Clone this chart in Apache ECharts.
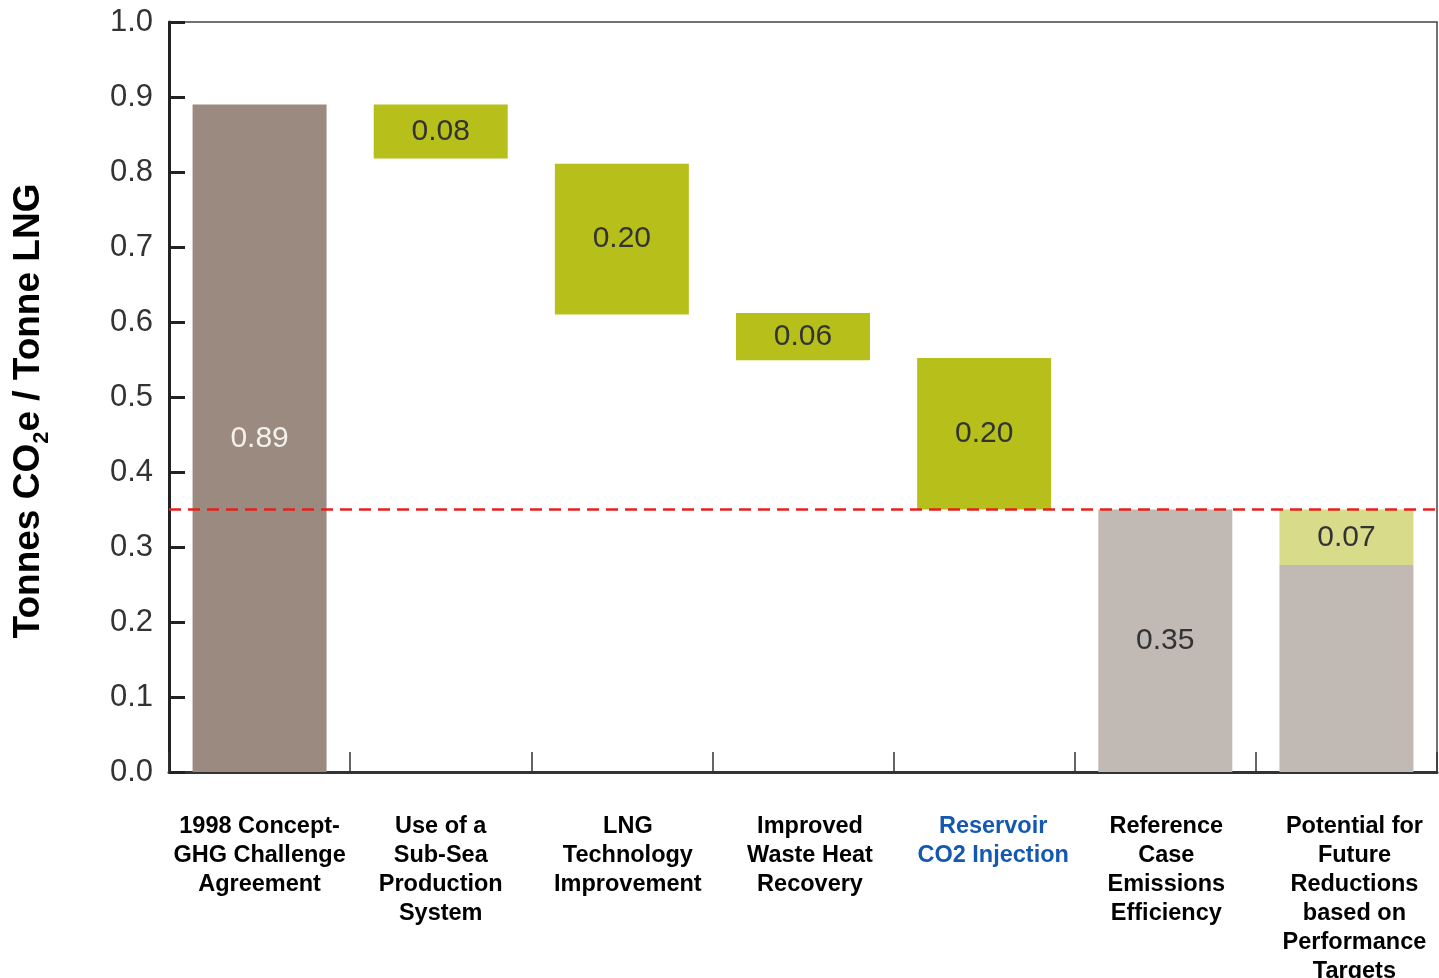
<!DOCTYPE html>
<html>
<head>
<meta charset="utf-8">
<script src="https://cdn.jsdelivr.net/npm/echarts@6/dist/echarts.min.js"></script>
<style>
html,body{margin:0;padding:0;background:#fff;}
#chart{width:1439px;height:978px;}
</style>
</head>
<body>
<div id="chart"></div>
<script>
// ---- data ----
const categories = [
  '1998 Concept-\nGHG Challenge\nAgreement',
  'Use of a\nSub-Sea\nProduction\nSystem',
  'LNG\nTechnology\nImprovement',
  'Improved\nWaste Heat\nRecovery',
  'Reservoir\nCO2 Injection',
  'Reference\nCase\nEmissions\nEfficiency',
  'Potential for\nFuture\nReductions\nbased on\nPerformance\nTargets'
];
// solid bars standing on zero (start total, reference case, remaining potential)
const solidValues = [0.89, null, null, null, null, 0.35, 0.276];
// floating step segments: low and high ends
const stepLow  = [null, 0.818, 0.61, 0.549, 0.35, null, 0.276];
const stepHigh = [null, 0.89, 0.811, 0.612, 0.552, null, 0.35];
// printed value labels
const valueLabels = ['0.89', '0.08', '0.20', '0.06', '0.20', '0.35', '0.07'];
const targetLine = 0.35;
const yTicks = ['0.0','0.1','0.2','0.3','0.4','0.5','0.6','0.7','0.8','0.9','1.0'];

// ---- styling ----
const BROWN = '#9b8a7f', OLIVE = '#b7bf1b', GREY = '#c1b9b4', PALE = '#d8dc8a';
const solidColors = [BROWN, null, null, null, null, GREY, GREY];
const stepColors = [null, OLIVE, OLIVE, OLIVE, OLIVE, null, PALE];
const labelShift = [0, 0, 6, 7, 9, 1, 8];
const labelColors = ['#000','#000','#000','#000','#1558b0','#000','#000'];
const FONT = '"Liberation Sans", Arial, Helvetica, sans-serif';

// invisible lift under floating segments (only where nothing solid is stacked below)
const baseData = categories.map((c, i) => (solidValues[i] == null && stepLow[i] != null) ? stepLow[i] : 0);
const solidData = categories.map((c, i) => {
  if (solidValues[i] == null) return { value: 0, itemStyle: { color: 'rgba(0,0,0,0)' }, label: { show: false } };
  return {
    value: solidValues[i],
    itemStyle: { color: solidColors[i] },
    label: { show: i !== 6, color: i === 0 ? '#f4f0ec' : '#333' }
  };
});
const stepData = categories.map((c, i) => {
  if (stepLow[i] == null) return { value: 0, itemStyle: { color: 'rgba(0,0,0,0)' }, label: { show: false } };
  return {
    value: +(stepHigh[i] - stepLow[i]).toFixed(4),
    itemStyle: { color: stepColors[i] },
    label: { show: true, color: '#333' }
  };
});

const rich = {};
categories.forEach((c, i) => {
  rich['c' + i] = {
    fontFamily: FONT, fontSize: 23.5, fontWeight: 'bold', lineHeight: 29,
    color: labelColors[i], padding: [0, 0, 0, labelShift[i] * 2], align: 'center'
  };
});

const chart = echarts.init(document.getElementById('chart'));
chart.setOption({
  animation: false,
  backgroundColor: '#fff',
  grid: {
    left: 169, right: 2, top: 22, bottom: 206,
    show: true, borderColor: '#444', borderWidth: 1.5,
    containLabel: false, outerBoundsMode: 'none'
  },
  xAxis: {
    type: 'category',
    data: categories,
    axisLine: { show: true, onZero: false, lineStyle: { color: '#333', width: 3 } },
    axisTick: { show: true, inside: true, length: 20, interval: 0, alignWithLabel: false,
      lineStyle: { color: '#333', width: 1.5 } },
    axisLabel: {
      interval: 0, margin: 40, hideOverlap: false,
      formatter: (v, i) => v.split('\n').map(l => '{c' + i + '|' + l + '}').join('\n'),
      rich: rich
    },
    splitLine: { show: false }
  },
  yAxis: {
    type: 'value', min: 0, max: 1, interval: 0.1,
    axisLine: { show: true, lineStyle: { color: '#222', width: 3 } },
    axisTick: { show: true, inside: true, length: 16, lineStyle: { color: '#222', width: 3 } },
    axisLabel: {
      margin: 16, fontFamily: FONT, fontSize: 31, color: '#333',
      formatter: (v) => yTicks[Math.round(v * 10)]
    },
    splitLine: { show: false }
  },
  graphic: [{
    type: 'text',
    x: 29, y: 411,
    rotation: Math.PI / 2,
    style: {
      text: '{a|Tonnes CO}{s|2}{a|e / Tonne LNG}',
      align: 'center', verticalAlign: 'middle',
      rich: {
        a: { fontFamily: FONT, fontSize: 37, fontWeight: 'bold', fill: '#000', lineHeight: 37, verticalAlign: 'top' },
        s: { fontFamily: FONT, fontSize: 22, fontWeight: 'bold', fill: '#000', lineHeight: 22, verticalAlign: 'top', padding: [20, 0, 0, 0] }
      }
    }
  }],
  series: [
    {
      name: 'base', type: 'bar', stack: 'w', barWidth: 134,
      itemStyle: { color: 'rgba(0,0,0,0)' },
      emphasis: { disabled: true }, silent: true,
      data: baseData
    },
    {
      name: 'solid', type: 'bar', stack: 'w', barWidth: 134,
      label: {
        position: 'inside', fontFamily: FONT, fontSize: 30,
        formatter: (p) => valueLabels[p.dataIndex]
      },
      data: solidData
    },
    {
      name: 'step', type: 'bar', stack: 'w', barWidth: 134,
      label: {
        position: 'inside', fontFamily: FONT, fontSize: 30,
        formatter: (p) => valueLabels[p.dataIndex]
      },
      data: stepData,
      markLine: {
        silent: true, symbol: 'none',
        label: { show: false },
        lineStyle: { color: '#e8201c', width: 2.5, type: [12, 7] },
        data: [{ yAxis: targetLine }]
      }
    }
  ]
});
</script>
</body>
</html>
